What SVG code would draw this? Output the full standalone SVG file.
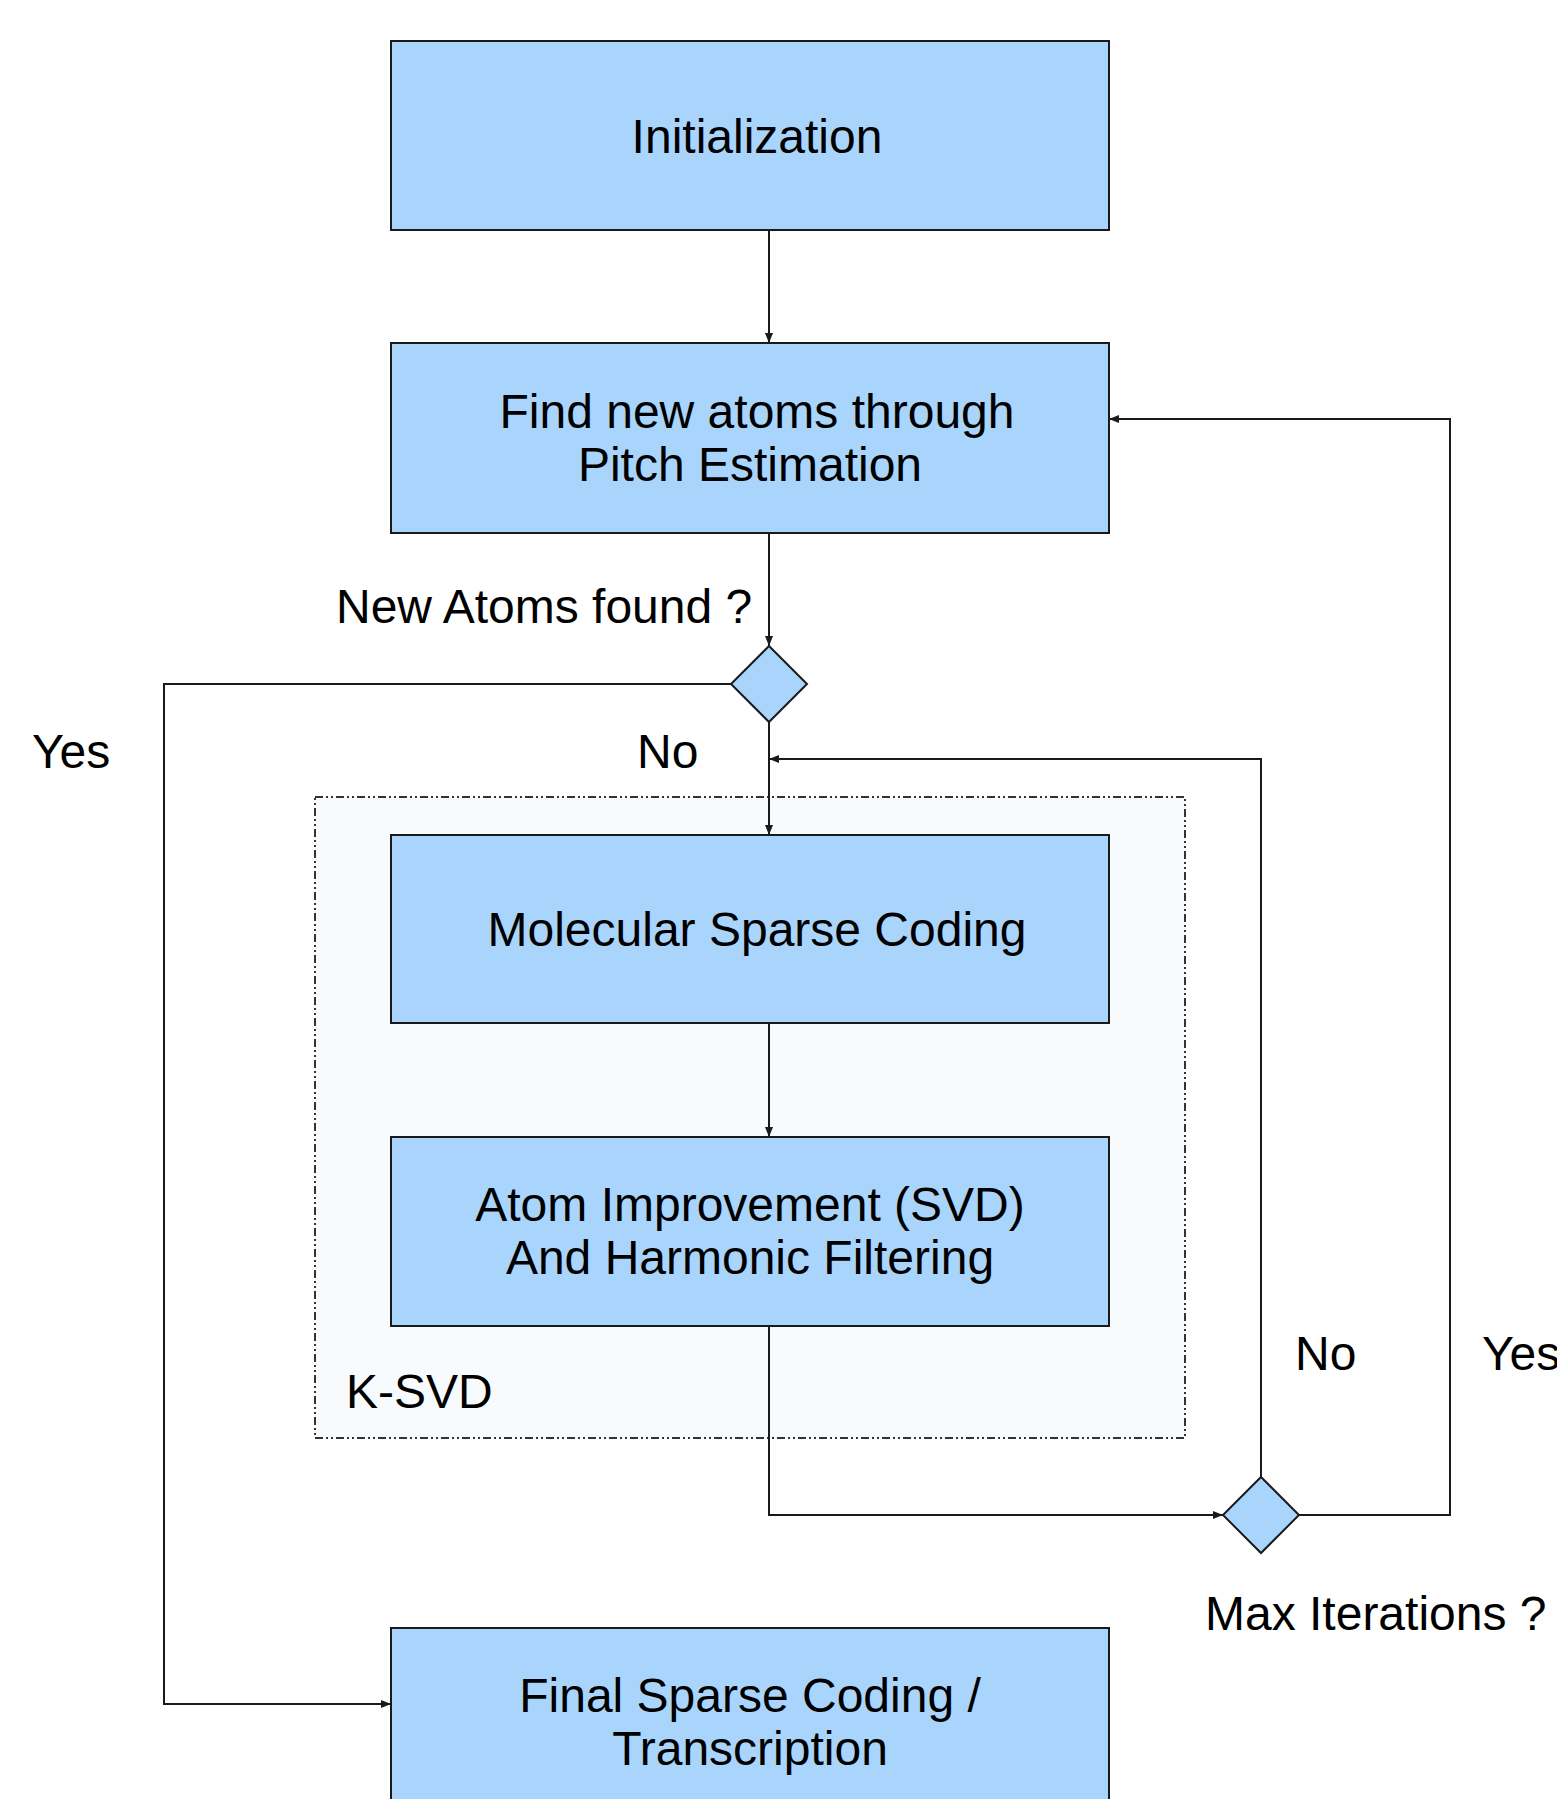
<svg xmlns="http://www.w3.org/2000/svg" width="1557" height="1799" viewBox="0 0 1557 1799">
  <style>
    .box { fill: #a9d5fd; stroke: #1a1a1a; stroke-width: 2; }
    .dia { fill: #a9d5fd; stroke: #1a1a1a; stroke-width: 2; }
    .grp { fill: #f8fbfe; stroke: #333333; stroke-width: 2; stroke-dasharray: 8 3 2 3 2 3; }
    .wire { fill: none; stroke: #1a1a1a; stroke-width: 2; }
    text { font-family: "Liberation Sans", Arial, sans-serif; font-size: 48px; fill: #000000; }
    .c { text-anchor: middle; }
  </style>
  <defs>
    <marker id="arrow" viewBox="0 0 10 8" refX="10" refY="4" markerWidth="10" markerHeight="8" markerUnits="userSpaceOnUse" orient="auto">
      <path d="M0,0 L10,4 L0,8 Z" fill="#1a1a1a"/>
    </marker>
  </defs>

  <!-- K-SVD grouping frame -->
  <g id="ksvd">
    <rect class="grp" x="315" y="797" width="870" height="641"/>
    <text x="346" y="1408">K-SVD</text>
  </g>

  <!-- connectors -->
  <g id="connectors">
    <path class="wire" d="M769,230 V343" marker-end="url(#arrow)"/>
    <path class="wire" d="M769,533 V646" marker-end="url(#arrow)"/>
    <path class="wire" d="M769,722 V835" marker-end="url(#arrow)"/>
    <path class="wire" d="M769,1023 V1137" marker-end="url(#arrow)"/>
    <path class="wire" d="M769,1326 V1515 H1223" marker-end="url(#arrow)"/>
    <path class="wire" d="M1261,1477 V759 H769" marker-end="url(#arrow)"/>
    <path class="wire" d="M1299,1515 H1450 V419 H1109" marker-end="url(#arrow)"/>
    <path class="wire" d="M731,684 H164 V1704 H391" marker-end="url(#arrow)"/>
  </g>

  <g id="init">
    <rect class="box" x="391" y="41" width="718" height="189"/>
    <text class="c" x="757" y="153">Initialization</text>
  </g>

  <g id="pitch">
    <rect class="box" x="391" y="343" width="718" height="190"/>
    <text class="c" x="757" y="428">Find new atoms through</text>
    <text class="c" x="750" y="481">Pitch Estimation</text>
  </g>

  <g id="new-atoms">
    <polygon class="dia" points="769,646 807,684 769,722 731,684"/>
    <text x="336" y="623">New Atoms found ?</text>
  </g>

  <g id="sparse-coding">
    <rect class="box" x="391" y="835" width="718" height="188"/>
    <text class="c" x="757" y="946">Molecular Sparse Coding</text>
  </g>

  <g id="atom-improvement">
    <rect class="box" x="391" y="1137" width="718" height="189"/>
    <text class="c" x="750" y="1221">Atom Improvement (SVD)</text>
    <text class="c" x="750" y="1274">And Harmonic Filtering</text>
  </g>

  <g id="max-iterations">
    <polygon class="dia" points="1261,1477 1299,1515 1261,1553 1223,1515"/>
    <text x="1205" y="1630">Max Iterations ?</text>
  </g>

  <g id="final">
    <rect class="box" x="391" y="1628" width="718" height="190"/>
    <text class="c" x="750" y="1712">Final Sparse Coding /</text>
    <text class="c" x="750" y="1765">Transcription</text>
  </g>

  <!-- branch labels -->
  <g id="labels">
    <text x="32" y="768">Yes</text>
    <text x="637" y="768">No</text>
    <text x="1295" y="1370">No</text>
    <text x="1482" y="1370">Yes</text>
  </g>
</svg>
